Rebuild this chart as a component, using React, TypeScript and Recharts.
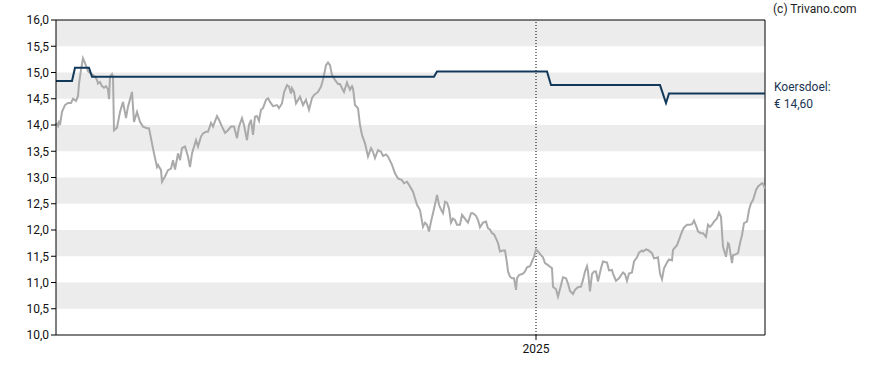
import { LineChart, Line, XAxis, YAxis, ReferenceArea, ReferenceLine } from 'recharts';

// koers (grey) — [dag-index, koers]
const pricePoints: [number, number][] = [
  [0, 14.04], [1, 13.98], [1.5, 14.08], [2, 14.0], [3, 14.25], [4.5, 14.38], [6, 14.42], [7.5, 14.42], [8.5, 14.5], [10, 14.46],
  [11, 14.55], [11.5, 14.79], [12.5, 15.05], [13.5, 15.27], [14.5, 15.18], [15.5, 15.08], [16, 15.02], [17.5, 14.98], [18.5, 14.95], [19.5, 14.92],
  [20.5, 14.86], [21, 14.79], [22, 14.82], [23, 14.74], [24, 14.71], [25, 14.74], [26, 14.68], [26.5, 14.49], [27, 14.92], [28, 14.97],
  [28.5, 14.92], [29, 13.9], [30.5, 13.95], [32, 14.25], [33.5, 14.44], [35, 14.13], [36, 14.35], [38, 14.63], [39, 14.06], [40.5, 14.25],
  [42, 14.06], [43.5, 13.97], [45.5, 13.94], [46.5, 13.94], [48, 13.65], [49, 13.46], [50.5, 13.2], [51, 13.24], [52.5, 13.14], [53, 12.92],
  [54.5, 13.02], [56, 13.14], [57.5, 13.17], [58.5, 13.33], [59.5, 13.15], [61, 13.46], [62, 13.33], [63, 13.56], [64.5, 13.59], [66, 13.4],
  [67, 13.2], [68, 13.46], [70, 13.71], [71, 13.59], [72.5, 13.78], [73.5, 13.84], [75, 13.87], [76, 13.87], [77.5, 14.04], [78.5, 13.97],
  [80.5, 14.17], [81.5, 14.1], [83, 13.97], [84.5, 13.85], [86, 13.9], [87.5, 13.97], [89, 13.97], [90.5, 13.75], [91.5, 13.97], [93, 14.13],
  [94, 14.0], [95.5, 13.71], [96.5, 14.0], [97.5, 14.1], [98.5, 13.81], [99.5, 14.16], [100.5, 14.17], [101.5, 14.08], [102.5, 14.29], [103.5, 14.32],
  [105, 14.48], [106, 14.51], [107, 14.44], [108.5, 14.36], [110.5, 14.38], [111.5, 14.32], [113, 14.41], [114, 14.62], [115.5, 14.76], [116.5, 14.73],
  [117.5, 14.6], [118, 14.7], [119, 14.63], [120, 14.41], [122, 14.54], [123.5, 14.38], [125, 14.48], [126.5, 14.29], [128, 14.51], [129, 14.57],
  [131, 14.63], [132.5, 14.73], [133.5, 14.86], [135, 15.14], [136, 15.19], [137, 15.14], [138, 14.95], [139.5, 14.86], [141, 14.78], [142, 14.78],
  [143, 14.7], [144, 14.63], [145.5, 14.81], [146, 14.76], [147, 14.67], [148, 14.74], [148.5, 14.7], [149.5, 14.38], [151, 14.32], [152, 14.0],
  [153, 13.81], [154.5, 13.65], [156, 13.4], [157.5, 13.56], [158.5, 13.49], [159.5, 13.37], [161, 13.52], [162.5, 13.49], [163.5, 13.41], [165, 13.44],
  [166, 13.4], [168, 13.24], [169.5, 13.08], [171, 12.98], [173, 12.95], [174, 12.89], [175.5, 12.92], [176.5, 12.86], [178.5, 12.73], [180.5, 12.48],
  [182, 12.38], [183.5, 12.06], [184.5, 12.14], [185.5, 12.1], [186.5, 11.97], [187.5, 12.16], [188.5, 12.32], [190, 12.57], [190.5, 12.67], [191.5, 12.48],
  [193, 12.35], [193.5, 12.32], [194.5, 12.54], [195.5, 12.52], [196.5, 12.41], [197.5, 12.14], [198.5, 12.22], [199.5, 12.19], [200.5, 12.1], [202, 12.1],
  [203, 12.29], [204, 12.24], [205, 12.19], [206, 12.14], [207.5, 12.32], [208.5, 12.32], [210, 12.27], [211, 12.19], [212, 12.05], [213.5, 12.14],
  [215, 12.16], [216, 12.03], [217, 12.01], [218, 11.94], [219, 11.92], [220, 11.84], [221, 11.75], [222, 11.59], [223.5, 11.61], [224.5, 11.61],
  [225.5, 11.37], [226, 11.21], [227, 11.11], [228, 11.08], [229, 11.08], [230, 10.86], [230.5, 11.08], [231.5, 11.14], [233.5, 11.17], [234.5, 11.21],
  [235.5, 11.29], [237, 11.31], [238, 11.4], [239, 11.49], [240, 11.63], [241, 11.59], [242.5, 11.52], [243.5, 11.48], [244.5, 11.37], [246, 11.33],
  [248, 11.27], [248.5, 10.92], [250, 10.87], [251, 10.73], [252.5, 10.95], [253.5, 11.1], [255, 11.08], [256, 10.98], [257, 10.84], [258.5, 10.78],
  [259.5, 10.86], [261, 10.91], [262.5, 10.92], [263.5, 11.05], [264.5, 11.21], [265.5, 11.31], [266, 11.21], [267, 10.83], [268, 11.16], [269, 11.21],
  [270, 11.21], [271, 11.02], [272.5, 11.27], [273.5, 11.4], [275.5, 11.38], [276.5, 11.23], [278, 11.24], [278.5, 11.17], [280, 11.03], [281.5, 11.08],
  [283.5, 11.19], [284.5, 11.16], [285.5, 11.03], [286.5, 11.17], [288, 11.19], [289, 11.4], [290.5, 11.48], [291.5, 11.57], [293, 11.61], [293.5, 11.59],
  [295, 11.63], [296, 11.62], [298, 11.56], [299, 11.46], [301, 11.48], [302, 11.17], [303, 11.06], [304, 11.27], [305.5, 11.38], [306.5, 11.44],
  [308, 11.42], [308.5, 11.62], [310.5, 11.71], [311.5, 11.81], [313, 11.97], [314, 12.05], [315.5, 12.1], [317, 12.1], [318, 12.11], [319, 12.18],
  [320.5, 12.03], [321, 11.97], [322.5, 11.94], [323.5, 11.94], [325, 11.87], [326, 12.1], [327, 12.06], [328, 12.1], [329, 12.16], [330.5, 12.22],
  [331.5, 12.33], [332.5, 12.25], [333.5, 11.68], [335, 11.49], [336, 11.75], [336.5, 11.73], [338, 11.37], [338.5, 11.52], [340, 11.54], [341, 11.56],
  [342, 11.75], [343, 11.9], [344, 12.13], [345.5, 12.16], [346.5, 12.38], [347.5, 12.51], [348.5, 12.57], [350, 12.76], [351, 12.83], [353, 12.89],
  [353.5, 12.88], [354.5, 12.79],
];

// koersdoel (navy)
const targetPoints: [number, number][] = [
  [0, 14.84], [8, 14.84], [9.5, 15.09], [16.5, 15.09], [18, 14.92], [189, 14.92], [190.5, 15.02], [245.5, 15.02],
  [247.5, 14.76], [302, 14.76], [305, 14.42], [306.5, 14.6], [354.5, 14.6],
];

const yTicks = [10, 10.5, 11, 11.5, 12, 12.5, 13, 13.5, 14, 14.5, 15, 15.5, 16];
const bands: [number, number][] = [[10.5, 11], [11.5, 12], [12.5, 13], [13.5, 14], [14.5, 15], [15.5, 16]];
const xTicks = [240];
const xTickLabels = ['2025'];
const xMax = 354.5;

const priceData = pricePoints.map(([t, v]) => ({ t, v }));
const targetData = targetPoints.map(([t, v]) => ({ t, v }));

const fmt = (v: number) => v.toFixed(1).replace('.', ',');
const font = 'Roboto, "Noto Sans", sans-serif';

export default function App() {
  return (
    <div style={{ position: 'absolute', left: 0, top: 0, width: 888, height: 370, background: '#fff', fontFamily: font }}>
      <LineChart width={888} height={370} margin={{ top: 20, right: 123, bottom: 5, left: 0 }}>
        {bands.map(([a, b]) => (
          <ReferenceArea key={a} y1={a} y2={b} fill="#ececec" fillOpacity={1} stroke="none" ifOverflow="hidden" />
        ))}
        <XAxis
          type="number"
          dataKey="t"
          domain={[0, xMax]}
          ticks={xTicks}
          tickFormatter={(v: number) => xTickLabels[xTicks.indexOf(v)]}
          height={30}
          tickSize={5}
          tickMargin={4}
          stroke="#000"
          tick={{ fill: '#111', fontSize: 12, fontFamily: font }}
        />
        <YAxis
          type="number"
          domain={[10, 16]}
          ticks={yTicks}
          tickFormatter={fmt}
          width={56}
          tickSize={5}
          tickMargin={2}
          stroke="#000"
          tick={{ fill: '#111', fontSize: 12, fontFamily: font }}
        />
        <ReferenceLine x={xTicks[0]} stroke="#000" strokeDasharray="1 2" />
        <ReferenceLine y={16} stroke="#000" />
        <ReferenceLine x={xMax} stroke="#000" />
        <Line data={priceData} dataKey="v" type="linear" stroke="#aaaaaa" strokeWidth={2} dot={false} isAnimationActive={false} />
        <Line data={targetData} dataKey="v" type="linear" stroke="#12395a" strokeWidth={2} dot={false} isAnimationActive={false} />
      </LineChart>
      <svg width={888} height={370} style={{ position: 'absolute', left: 0, top: 0, pointerEvents: 'none' }}>
        <text x={773} y={12.5} fontSize={12} fill="#222" fontFamily={font}>(c) Trivano.com</text>
        <text x={774} y={90.5} fontSize={12} fill="#1c3553" fontFamily={font}>Koersdoel:</text>
        <text x={774} y={108} fontSize={12} fill="#1c3553" fontFamily={font}>€ 14,60</text>
      </svg>
    </div>
  );
}
